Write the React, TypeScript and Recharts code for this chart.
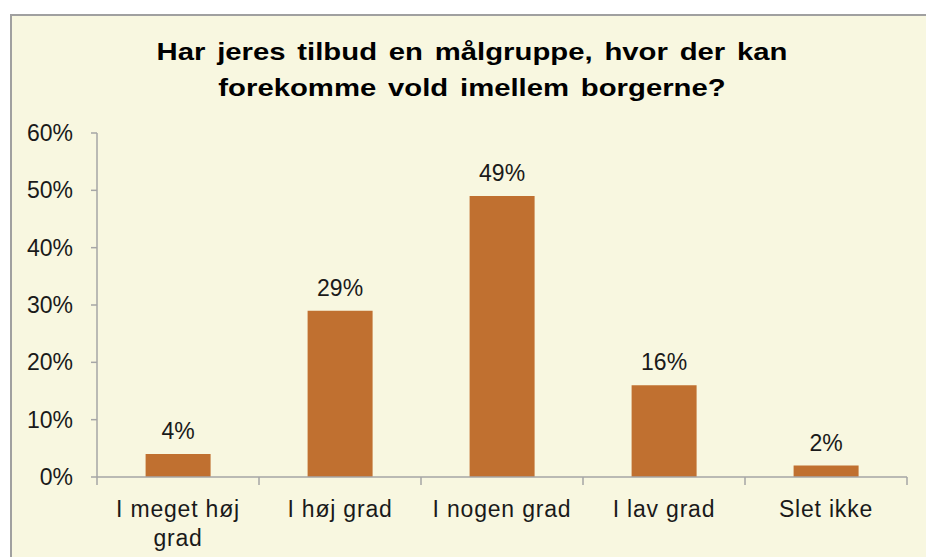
import React from "react"
import { BarChart, Bar, XAxis, YAxis, LabelList } from "recharts"

const categories = ["I meget høj grad", "I høj grad", "I nogen grad", "I lav grad", "Slet ikke"]
const shares = [4, 29, 49, 16, 2]
const yTicks = [0, 10, 20, 30, 40, 50, 60]

const data = categories.map((name, i) => ({ name, value: shares[i] }))

const FONT = "'Liberation Sans', Arial, sans-serif"
const AXIS_COLOR = "#A6A6A6"
const TEXT_COLOR = "#1a1a1a"
const BAR_COLOR = "#C07030"

const W = 926
const H = 557
const MARGIN = { top: 133, right: 19, bottom: 0, left: 0 }
const Y_AXIS_W = 97
const BAND = (W - MARGIN.left - MARGIN.right - Y_AXIS_W) / categories.length

// long labels go on two lines, broken at the last space
const splitLabel = (s: string) => {
  if (s.length <= 13) return [s]
  const i = s.lastIndexOf(" ")
  return [s.slice(0, i), s.slice(i + 1)]
}

// category labels with tick marks on the band boundaries (like Excel)
const CategoryTick = (props: any) => {
  const { x, y, payload, index } = props
  const half = payload.offset || BAND / 2
  const axisY = y - 23
  const lines = splitLabel(String(payload.value))
  return (
    <g>
      {index === 0 && (
        <line x1={x - half} x2={x - half} y1={axisY} y2={axisY + 8} stroke={AXIS_COLOR} strokeWidth={1.5} />
      )}
      <line x1={x + half} x2={x + half} y1={axisY} y2={axisY + 8} stroke={AXIS_COLOR} strokeWidth={1.5} />
      <text
        x={x}
        y={y + 16.5}
        textAnchor="middle"
        fontSize={23}
        fontFamily={FONT}
        letterSpacing={0.8}
        fill={TEXT_COLOR}
      >
        {lines.map((l, i) => (
          <tspan key={i} x={x} dy={i === 0 ? 0 : 29}>
            {l}
          </tspan>
        ))}
      </text>
    </g>
  )
}

export default function App() {
  return (
    <div style={{ position: "absolute", left: 0, top: 0, width: W, height: H, overflow: "hidden" }}>
      <div
        style={{
          position: "absolute",
          left: 10,
          top: 14,
          right: -20,
          bottom: -20,
          background: "#F8F7E0",
          borderTop: "2px solid #A0A0A0",
          borderLeft: "2px solid #A0A0A0",
        }}
      />
      <div
        style={{
          position: "absolute",
          left: 0,
          top: 34,
          width: 944,
          textAlign: "center",
          fontFamily: FONT,
          fontWeight: "bold",
          fontSize: 24,
          wordSpacing: 3,
          lineHeight: "36px",
          color: "#000",
          transform: "scaleX(1.22)",
          transformOrigin: "472px 0",
        }}
      >
        Har jeres tilbud en målgruppe, hvor der kan
        <br />
        forekomme vold imellem borgerne?
      </div>
      <div style={{ position: "absolute", left: 0, top: 0 }}>
        <BarChart width={W} height={H} data={data} margin={MARGIN} barCategoryGap="30%">
          <XAxis
            dataKey="name"
            height={80}
            tick={<CategoryTick />}
            tickLine={false}
            tickSize={8}
            tickMargin={15}
            interval={0}
            axisLine={{ stroke: AXIS_COLOR, strokeWidth: 1.5 }}
          />
          <YAxis
            width={Y_AXIS_W}
            domain={[0, 60]}
            ticks={yTicks}
            interval={0}
            tickFormatter={(v: number) => `${v}%`}
            tickSize={6}
            tickMargin={18}
            tick={{ fontSize: 23, fontFamily: FONT, fill: TEXT_COLOR }}
            tickLine={{ stroke: AXIS_COLOR, strokeWidth: 1.5 }}
            axisLine={{ stroke: AXIS_COLOR, strokeWidth: 1.5 }}
          />
          <Bar dataKey="value" fill={BAR_COLOR} isAnimationActive={false}>
            <LabelList
              dataKey="value"
              position="top"
              offset={15}
              formatter={(v: any) => `${v}%`}
              style={{ fontSize: 23, fontFamily: FONT, fill: TEXT_COLOR }}
            />
          </Bar>
        </BarChart>
      </div>
    </div>
  )
}
